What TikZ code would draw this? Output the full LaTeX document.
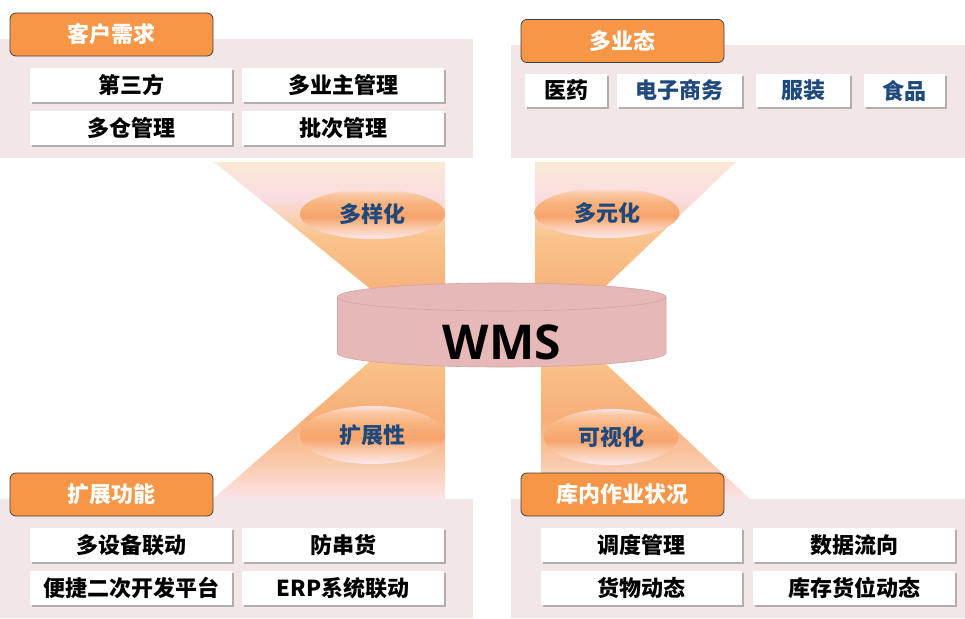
\documentclass[tikz,border=0pt]{standalone}
\usepackage{fontspec}
\setmainfont{Noto Sans CJK SC}
\newfontfamily\cjk{Noto Sans CJK SC}
\newfontfamily\latinb{Open Sans}
\usetikzlibrary{shadows,shapes.geometric}
\definecolor{panelbg}{HTML}{F3E6E6}
\definecolor{tabor}{HTML}{F79646}
\definecolor{bluet}{HTML}{1F497D}
\definecolor{cylc}{HTML}{E6B8B7}
\definecolor{cylline}{HTML}{D6A3A2}
\definecolor{fOr}{HTML}{F8AE78}
\definecolor{fOr2}{HTML}{F9C48C}
\definecolor{fPk}{HTML}{F9DDE0}
\definecolor{fPk2}{HTML}{FBE4DC}
\definecolor{fPe}{HTML}{FCEAD2}
\definecolor{bPk}{HTML}{FBE4E8}
\definecolor{bMid}{HTML}{F9C8A8}
\definecolor{bTop}{HTML}{F9C68C}
\definecolor{eA}{HTML}{FCE8EC}
\definecolor{eB}{HTML}{FAC8A8}
\definecolor{eC}{HTML}{F7A46C}
\definecolor{eD}{HTML}{F9B27C}
\definecolor{eE}{HTML}{FAC8A4}
\definecolor{eF}{HTML}{FBE2E4}
\pgfdeclareverticalshading{funtop}{100bp}{color(0bp)=(fOr); color(25bp)=(fOr); color(48bp)=(fOr2); color(62bp)=(fPk); color(70bp)=(fPk2); color(75bp)=(fPe); color(100bp)=(fPe)}
\pgfdeclareverticalshading{funbot}{100bp}{color(0bp)=(bPk); color(25bp)=(bPk); color(38bp)=(bMid); color(52bp)=(fOr); color(75bp)=(bTop); color(100bp)=(bTop)}
\pgfdeclareverticalshading{elsh}{100bp}{color(0bp)=(eA); color(25bp)=(eA); color(37bp)=(eB); color(47bp)=(eC); color(60bp)=(eD); color(70bp)=(eE); color(75bp)=(eF); color(100bp)=(eF)}
\begin{document}
\begin{tikzpicture}[x=1pt,y=-1pt,
  panel/.style={fill=panelbg},
  tab/.style={draw=black!75, line width=0.8pt, fill=tabor, rounded corners=6pt,
    minimum width=203pt, minimum height=43pt, inner sep=0pt, text=white,
    font=\cjk\bfseries\fontsize{22}{22}\selectfont},
  item/.style={fill=white, minimum height=34pt, inner sep=0pt,
    font=\cjk\bfseries\fontsize{22}{22}\selectfont,
    drop shadow={shadow xshift=2pt, shadow yshift=-2pt, fill=black!50, opacity=0.55}},
  wide/.style={minimum width=202pt},
  oval/.style={ellipse, shading=elsh, minimum width=145pt, minimum height=50pt, inner sep=0pt,
    text=bluet, font=\cjk\bfseries\fontsize{22}{22}\selectfont},
]
\useasboundingbox (0,0) rectangle (965,618);

% funnels
\shade[shading=funtop] (214,162) -- (445,162) -- (445,300) -- (384,300) -- cycle;
\shade[shading=funtop] (535,162) -- (736,162) -- (591,300) -- (535,300) -- cycle;
\shade[shading=funbot] (383,350) -- (445,350) -- (445,499) -- (213,499) -- cycle;
\shade[shading=funbot] (541,350) -- (591,350) -- (750,499) -- (541,499) -- cycle;

% panels
\fill[panel] (0,39) rectangle (473,158);
\fill[panel] (511,45) rectangle (965,158);
\fill[panel] (0,499) rectangle (473,618);
\fill[panel] (511,499) rectangle (965,618);

% ovals
\node[oval] (o1) at (372.5,214) {多样化};
\node[oval] (o2) at (607,213) {多元化};
\node[oval, minimum height=58pt] (o3) at (372.5,435) {扩展性};
\node[oval, minimum width=134pt, minimum height=56pt] (o4) at (611,437) {可视化};

% cylinder
\fill[cylc, draw=cylline, line width=0.6pt] (337.5,297) -- (337.5,353)
  arc[start angle=180, end angle=0, x radius=164.25, y radius=14]
  -- (666,297) arc[start angle=0, end angle=-180, x radius=164.25, y radius=14] -- cycle;
\draw[cylline, line width=0.6pt] (337.5,297) arc[start angle=180, end angle=0, x radius=164.25, y radius=14];
\node[font=\latinb\bfseries\fontsize{48}{48}\selectfont] (wms) at (502,342) {WMS};

% top-left
\node[tab] (t1) at (111.5,34.5) {客户需求};
\node[item, wide] (a1) at (131,85) {第三方};
\node[item, wide] (a2) at (343,85) {多业主管理};
\node[item, wide] (a3) at (131,128) {多仓管理};
\node[item, wide] (a4) at (343,128) {批次管理};

% top-right
\node[tab] (t2) at (622.5,41) {多业态};
\node[item, minimum width=82pt, minimum height=33pt] (b1) at (566,90.5) {医药};
\node[item, minimum width=125pt, minimum height=33pt, text=bluet] (b2) at (679.5,90.5) {电子商务};
\node[item, minimum width=94pt, minimum height=33pt, text=bluet] (b3) at (803,90.5) {服装};
\node[item, minimum width=81pt, minimum height=33pt, text=bluet] (b4) at (904,90.5) {食品};

% bottom-left
\node[tab] (t3) at (111.5,494.5) {扩展功能};
\node[item, wide] (c1) at (131,545) {多设备联动};
\node[item, wide] (c2) at (343,545) {防串货};
\node[item, wide] (c3) at (131,588) {便捷二次开发平台};
\node[item, wide] (c4) at (343,588) {ERP系统联动};

% bottom-right
\node[tab] (t4) at (622.5,494.5) {库内作业状况};
\node[item, minimum width=201pt] (d1) at (641.5,545) {调度管理};
\node[item, wide] (d2) at (854,545) {数据流向};
\node[item, minimum width=201pt] (d3) at (641.5,588) {货物动态};
\node[item, wide] (d4) at (854,588) {库存货位动态};
\end{tikzpicture}
\end{document}
